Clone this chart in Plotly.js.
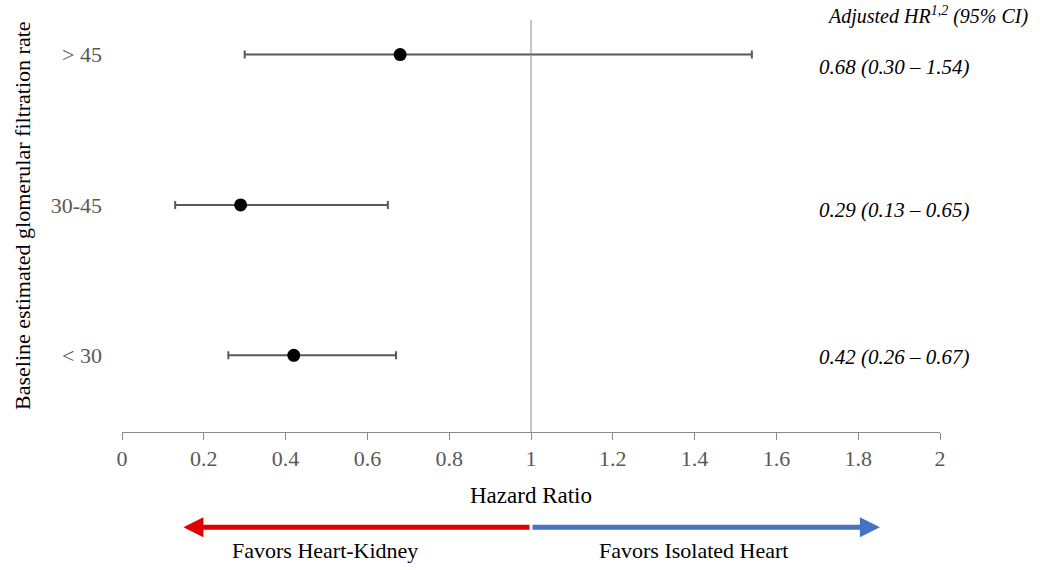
<!DOCTYPE html>
<html>
<head>
<meta charset="utf-8">
<script src="https://cdn.plot.ly/plotly-3.0.1.min.js"></script>
<style>html,body{margin:0;padding:0;background:#fff;}#chart{width:1040px;height:570px;}</style>
</head>
<body>
<div id="chart"></div>
<script>
// Data
const categories = ["< 30", "30-45", "> 45"];
const hr = [0.42, 0.29, 0.68];
const ciLow = [0.26, 0.13, 0.30];
const ciHigh = [0.67, 0.65, 1.54];
const yPos = [0, 1, 2];
const xTicks = [0, 0.2, 0.4, 0.6, 0.8, 1, 1.2, 1.4, 1.6, 1.8, 2];

const serif = "Liberation Serif, Times New Roman, serif";
const grey = "#595959";
// small vertical offsets (px) of the CI text column relative to each row
const textShift = [-2, -5, -12];

const trace = {
  type: "scatter",
  mode: "markers",
  x: hr,
  y: yPos,
  marker: {color: "#000", size: 13},
  error_x: {
    type: "data",
    symmetric: false,
    array: hr.map((v, i) => ciHigh[i] - v),
    arrayminus: hr.map((v, i) => v - ciLow[i]),
    color: grey,
    thickness: 2,
    width: 4
  },
  hoverinfo: "skip",
  showlegend: false
};

const fmt = v => v.toFixed(2);
const annotations = [];
yPos.forEach((y, i) => {
  annotations.push({
    xref: "x", yref: "y",
    x: 1.70, y: y, xanchor: "left", yanchor: "middle",
    yshift: textShift[i],
    text: "<i>" + fmt(hr[i]) + " (" + fmt(ciLow[i]) + " \u2013 " + fmt(ciHigh[i]) + ")</i>",
    showarrow: false,
    font: {family: serif, size: 21, color: "#000"}
  });
});
annotations.push({
  xref: "x", yref: "paper",
  x: 1.72, y: 1.012, xanchor: "left", yanchor: "middle",
  text: "<i>Adjusted HR<sup>1,2</sup> (95% CI)</i>",
  showarrow: false,
  font: {family: serif, size: 20, color: "#000"}
});
// y-axis title
annotations.push({
  xref: "paper", yref: "paper",
  x: (22 - 122) / 818, y: (432 - 216) / 412, xanchor: "center", yanchor: "middle",
  textangle: -90,
  text: "Baseline estimated glomerular filtration rate", showarrow: false,
  font: {family: serif, size: 22, color: "#000"}
});
// arrows
const arrowY = -0.231;
annotations.push({
  xref: "x", yref: "paper", axref: "x", ayref: "paper",
  x: 0.15, y: arrowY, ax: 1, ay: arrowY,
  text: "", showarrow: true, arrowhead: 2, arrowsize: 0.8, arrowwidth: 5,
  arrowcolor: "#e00000", standoff: 0, startstandoff: 0
});
annotations.push({
  xref: "x", yref: "paper", axref: "x", ayref: "paper",
  x: 1.853, y: arrowY, ax: 1, ay: arrowY,
  text: "", showarrow: true, arrowhead: 2, arrowsize: 0.8, arrowwidth: 5,
  arrowcolor: "#4472c4", standoff: 0, startstandoff: 0
});
annotations.push({
  xref: "paper", yref: "paper",
  x: (325 - 122) / 818, y: -0.287, xanchor: "center", yanchor: "middle",
  text: "Favors Heart-Kidney", showarrow: false,
  font: {family: serif, size: 22, color: "#000"}
});
annotations.push({
  xref: "paper", yref: "paper",
  x: (693 - 122) / 818, y: -0.287, xanchor: "center", yanchor: "middle",
  text: "Favors Isolated Heart", showarrow: false,
  font: {family: serif, size: 22, color: "#000"}
});

const layout = {
  width: 1040, height: 570,
  margin: {l: 122, r: 100, t: 20, b: 138},
  paper_bgcolor: "#fff", plot_bgcolor: "#fff",
  font: {family: serif, color: "#000"},
  xaxis: {
    range: [0, 2],
    tickvals: xTicks,
    ticktext: xTicks.map(String),
    showgrid: false, zeroline: false,
    showline: true, linecolor: "#8c8c8c", linewidth: 1,
    ticks: "outside", ticklen: 7, tickcolor: "#8c8c8c",
    tickfont: {family: serif, size: 22, color: grey},
    title: {text: "Hazard Ratio", font: {family: serif, size: 23, color: "#000"}, standoff: 16},
    automargin: false,
    fixedrange: true
  },
  yaxis: {
    range: [-0.51, 2.23],
    tickvals: yPos,
    ticktext: categories,
    showgrid: false, zeroline: false, showline: false,
    ticks: "",
    ticklabelstandoff: 19,
    tickfont: {family: serif, size: 22, color: grey},
    automargin: false,
    fixedrange: true
  },
  shapes: [{
    type: "line", xref: "x", yref: "paper",
    x0: 1, x1: 1, y0: 0, y1: 1,
    line: {color: "#8c8c8c", width: 1}
  }],
  annotations: annotations
};

Plotly.newPlot("chart", [trace], layout, {displayModeBar: false, staticPlot: true});
</script>
</body>
</html>
